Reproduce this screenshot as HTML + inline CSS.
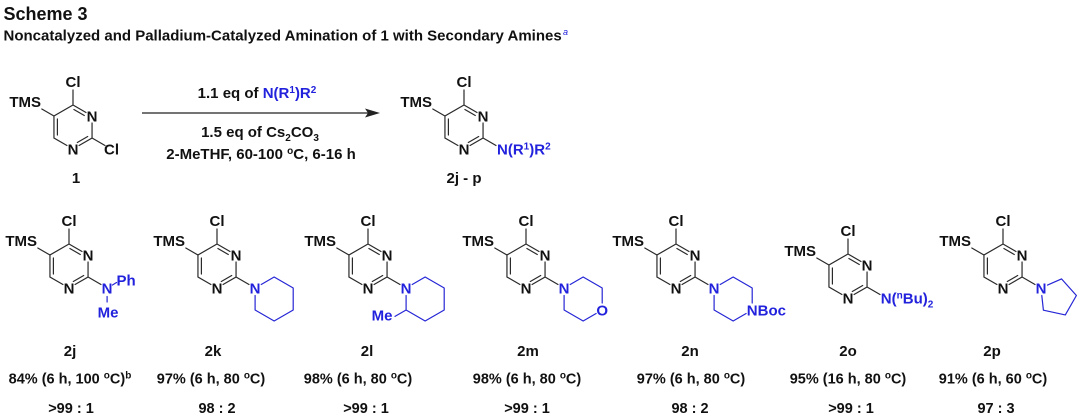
<!DOCTYPE html>
<html>
<head>
<meta charset="utf-8">
<style>
html,body{margin:0;padding:0;background:#fff;}
svg{display:block;}
text{font-family:"Liberation Sans",Arial,sans-serif;font-weight:bold;fill:#111;}
.a{font-size:15px;}
.b{fill:#2222dd;}
.bond{fill:none;stroke:#2a2a2a;stroke-width:1.2;stroke-linecap:round;}
.bb{fill:none;stroke:#2626d6;stroke-width:1.2;stroke-linecap:round;stroke-linejoin:round;}
.lab{font-size:15px;}
.pc{font-size:14.5px;}
</style>
</head>
<body>
<svg width="1080" height="420" viewBox="0 0 1080 420" xmlns="http://www.w3.org/2000/svg">
<rect width="1080" height="420" fill="#fff"/>

<!-- Title -->
<text x="3.5" y="20" style="font-size:18px">Scheme 3</text>
<text x="3.5" y="40.5" style="font-size:15px">Noncatalyzed and Palladium-Catalyzed Amination of 1 with Secondary Amines</text>
<text x="563" y="35" class="b" style="font-size:9px;font-style:italic;font-weight:normal">a</text>

<!-- Compound 1 -->
<g transform="translate(73,127)">
  <path class="bond" d="M0,-22 L-19.05,-11 L-19.05,11 L-6.06,18.5 M6.06,18.5 L19.05,11 L19.05,-4 M13,-14.5 L0,-22 M-15.6,-8 L-15.6,8 M4.3,15.5 L14.7,9.5 M11.3,-11.5 L0.9,-17.5 M0,-22 L0,-37 M-19.05,-11 L-31.2,-18 M19.05,11 L32,18.5"/>
  <text class="a" x="0" y="-40" text-anchor="middle">Cl</text>
  <text class="a" x="-32" y="-20" text-anchor="end">TMS</text>
  <text class="a" x="19.05" y="-5.5" text-anchor="middle">N</text>
  <text class="a" x="0" y="27.5" text-anchor="middle">N</text>
  <text class="a" x="38.5" y="27.5" text-anchor="middle">Cl</text>
</g>
<text class="lab" x="76" y="183" text-anchor="middle">1</text>

<!-- Arrow and conditions -->
<path d="M142,113 L368,113" stroke="#222" stroke-width="1.2" fill="none"/>
<polygon points="365,108.5 380,113 365,117.5 368,113" fill="#222"/>
<text x="257" y="98" text-anchor="middle" style="font-size:15px">1.1 eq of <tspan class="b">N(R</tspan><tspan class="b" dy="-5" style="font-size:10px">1</tspan><tspan class="b" dy="5">)R</tspan><tspan class="b" dy="-5" style="font-size:10px">2</tspan></text>
<text x="260" y="137" text-anchor="middle" style="font-size:15px">1.5 eq of Cs<tspan dy="4" style="font-size:10px">2</tspan><tspan dy="-4">CO</tspan><tspan dy="4" style="font-size:10px">3</tspan></text>
<text x="261" y="159" text-anchor="middle" style="font-size:15px">2-MeTHF, 60-100 <tspan dy="-5" style="font-size:10px">o</tspan><tspan dy="5">C, 6-16 h</tspan></text>

<!-- Product generic -->
<g transform="translate(464,127)">
  <path class="bond" d="M0,-22 L-19.05,-11 L-19.05,11 L-6.06,18.5 M6.06,18.5 L19.05,11 L19.05,-4 M13,-14.5 L0,-22 M-15.6,-8 L-15.6,8 M4.3,15.5 L14.7,9.5 M11.3,-11.5 L0.9,-17.5 M0,-22 L0,-37 M-19.05,-11 L-31.2,-18 M19.05,11 L32,18.5"/>
  <text class="a" x="0" y="-40" text-anchor="middle">Cl</text>
  <text class="a" x="-32" y="-20" text-anchor="end">TMS</text>
  <text class="a" x="19.05" y="-5.5" text-anchor="middle">N</text>
  <text class="a" x="0" y="27.5" text-anchor="middle">N</text>
  <text class="a b" x="33" y="27.5">N(R<tspan dy="-5" style="font-size:10px">1</tspan><tspan dy="5">)R</tspan><tspan dy="-5" style="font-size:10px">2</tspan></text>
</g>
<text class="lab" x="464" y="183" text-anchor="middle">2j - p</text>

<!-- 2j -->
<g transform="translate(69,266)">
  <path class="bond" d="M0,-22 L-19.05,-11 L-19.05,11 L-6.06,18.5 M6.06,18.5 L19.05,11 L19.05,-4 M13,-14.5 L0,-22 M-15.6,-8 L-15.6,8 M4.3,15.5 L14.7,9.5 M11.3,-11.5 L0.9,-17.5 M0,-22 L0,-37 M-19.05,-11 L-31.2,-18 M19.05,11 L32,18.5"/>
  <text class="a" x="0" y="-40" text-anchor="middle">Cl</text>
  <text class="a" x="-32" y="-20" text-anchor="end">TMS</text>
  <text class="a" x="19.05" y="-5.5" text-anchor="middle">N</text>
  <text class="a" x="0" y="27.5" text-anchor="middle">N</text>
  <path class="bb" d="M43.5,19 L47.5,16.5 M38.1,30.5 L38.1,36"/>
  <text class="a b" x="38.1" y="27.5" text-anchor="middle">N</text>
  <text class="a b" x="47.5" y="19.5">Ph</text>
  <text class="a b" x="39" y="51.5" text-anchor="middle">Me</text>
</g>

<!-- 2k -->
<g transform="translate(217,266)">
  <path class="bond" d="M0,-22 L-19.05,-11 L-19.05,11 L-6.06,18.5 M6.06,18.5 L19.05,11 L19.05,-4 M13,-14.5 L0,-22 M-15.6,-8 L-15.6,8 M4.3,15.5 L14.7,9.5 M11.3,-11.5 L0.9,-17.5 M0,-22 L0,-37 M-19.05,-11 L-31.2,-18 M19.05,11 L32,18.5"/>
  <text class="a" x="0" y="-40" text-anchor="middle">Cl</text>
  <text class="a" x="-32" y="-20" text-anchor="end">TMS</text>
  <text class="a" x="19.05" y="-5.5" text-anchor="middle">N</text>
  <text class="a" x="0" y="27.5" text-anchor="middle">N</text>
  <path class="bb" d="M44.2,18.5 L57.15,11 L76.2,22 L76.2,44 L57.15,55 L38.1,44 L38.1,29.5"/>
  <text class="a b" x="38.1" y="27.5" text-anchor="middle">N</text>
</g>

<!-- 2l -->
<g transform="translate(368,266)">
  <path class="bond" d="M0,-22 L-19.05,-11 L-19.05,11 L-6.06,18.5 M6.06,18.5 L19.05,11 L19.05,-4 M13,-14.5 L0,-22 M-15.6,-8 L-15.6,8 M4.3,15.5 L14.7,9.5 M11.3,-11.5 L0.9,-17.5 M0,-22 L0,-37 M-19.05,-11 L-31.2,-18 M19.05,11 L32,18.5"/>
  <text class="a" x="0" y="-40" text-anchor="middle">Cl</text>
  <text class="a" x="-32" y="-20" text-anchor="end">TMS</text>
  <text class="a" x="19.05" y="-5.5" text-anchor="middle">N</text>
  <text class="a" x="0" y="27.5" text-anchor="middle">N</text>
  <path class="bb" d="M44.2,18.5 L57.15,11 L76.2,22 L76.2,44 L57.15,55 L38.1,44 L38.1,29.5 M38.1,44 L27,50.4"/>
  <text class="a b" x="38.1" y="27.5" text-anchor="middle">N</text>
  <text class="a b" x="14" y="54.5" text-anchor="middle">Me</text>
</g>

<!-- 2m -->
<g transform="translate(526,266)">
  <path class="bond" d="M0,-22 L-19.05,-11 L-19.05,11 L-6.06,18.5 M6.06,18.5 L19.05,11 L19.05,-4 M13,-14.5 L0,-22 M-15.6,-8 L-15.6,8 M4.3,15.5 L14.7,9.5 M11.3,-11.5 L0.9,-17.5 M0,-22 L0,-37 M-19.05,-11 L-31.2,-18 M19.05,11 L32,18.5"/>
  <text class="a" x="0" y="-40" text-anchor="middle">Cl</text>
  <text class="a" x="-32" y="-20" text-anchor="end">TMS</text>
  <text class="a" x="19.05" y="-5.5" text-anchor="middle">N</text>
  <text class="a" x="0" y="27.5" text-anchor="middle">N</text>
  <path class="bb" d="M44.2,18.5 L57.15,11 L76.2,22 L76.2,37 M70.1,47.5 L57.15,55 L38.1,44 L38.1,29.5"/>
  <text class="a b" x="38.1" y="27.5" text-anchor="middle">N</text>
  <text class="a b" x="76.2" y="49.5" text-anchor="middle">O</text>
</g>

<!-- 2n -->
<g transform="translate(676,266)">
  <path class="bond" d="M0,-22 L-19.05,-11 L-19.05,11 L-6.06,18.5 M6.06,18.5 L19.05,11 L19.05,-4 M13,-14.5 L0,-22 M-15.6,-8 L-15.6,8 M4.3,15.5 L14.7,9.5 M11.3,-11.5 L0.9,-17.5 M0,-22 L0,-37 M-19.05,-11 L-31.2,-18 M19.05,11 L32,18.5"/>
  <text class="a" x="0" y="-40" text-anchor="middle">Cl</text>
  <text class="a" x="-32" y="-20" text-anchor="end">TMS</text>
  <text class="a" x="19.05" y="-5.5" text-anchor="middle">N</text>
  <text class="a" x="0" y="27.5" text-anchor="middle">N</text>
  <path class="bb" d="M44.2,18.5 L57.15,11 L76.2,22 L76.2,37 M70.1,47.5 L57.15,55 L38.1,44 L38.1,29.5"/>
  <text class="a b" x="38.1" y="27.5" text-anchor="middle">N</text>
  <text class="a b" x="70.8" y="49.5">NBoc</text>
</g>

<!-- 2o -->
<g transform="translate(848,276)">
  <path class="bond" d="M0,-22 L-19.05,-11 L-19.05,11 L-6.06,18.5 M6.06,18.5 L19.05,11 L19.05,-4 M13,-14.5 L0,-22 M-15.6,-8 L-15.6,8 M4.3,15.5 L14.7,9.5 M11.3,-11.5 L0.9,-17.5 M0,-22 L0,-37 M-19.05,-11 L-31.2,-18 M19.05,11 L32,18.5"/>
  <text class="a" x="0" y="-40" text-anchor="middle">Cl</text>
  <text class="a" x="-32" y="-20" text-anchor="end">TMS</text>
  <text class="a" x="19.05" y="-5.5" text-anchor="middle">N</text>
  <text class="a" x="0" y="27.5" text-anchor="middle">N</text>
  <text class="a b" x="32.8" y="27.5">N(<tspan dy="-5" style="font-size:10px">n</tspan><tspan dy="5">Bu)</tspan><tspan dy="4" style="font-size:10px">2</tspan></text>
</g>

<!-- 2p -->
<g transform="translate(1003,266)">
  <path class="bond" d="M0,-22 L-19.05,-11 L-19.05,11 L-6.06,18.5 M6.06,18.5 L19.05,11 L19.05,-4 M13,-14.5 L0,-22 M-15.6,-8 L-15.6,8 M4.3,15.5 L14.7,9.5 M11.3,-11.5 L0.9,-17.5 M0,-22 L0,-37 M-19.05,-11 L-31.2,-18 M19.05,11 L32,18.5"/>
  <text class="a" x="0" y="-40" text-anchor="middle">Cl</text>
  <text class="a" x="-32" y="-20" text-anchor="end">TMS</text>
  <text class="a" x="19.05" y="-5.5" text-anchor="middle">N</text>
  <text class="a" x="0" y="27.5" text-anchor="middle">N</text>
  <path class="bb" d="M44.5,19.1 L58.5,12.9 L73.4,29.5 L62.3,48.9 L40.4,44.2 L38.8,29.5"/>
  <text class="a b" x="38.1" y="27.5" text-anchor="middle">N</text>
</g>

<!-- Labels row -->
<text class="lab" x="70" y="356" text-anchor="middle">2j</text>
<text class="lab" x="213" y="356" text-anchor="middle">2k</text>
<text class="lab" x="367" y="356" text-anchor="middle">2l</text>
<text class="lab" x="528" y="356" text-anchor="middle">2m</text>
<text class="lab" x="690" y="356" text-anchor="middle">2n</text>
<text class="lab" x="848" y="356" text-anchor="middle">2o</text>
<text class="lab" x="992" y="356" text-anchor="middle">2p</text>

<!-- Yields -->
<text class="pc" x="70" y="383.5" text-anchor="middle">84% (6 h, 100 <tspan dy="-5" style="font-size:10px">o</tspan><tspan dy="5">C)</tspan><tspan dy="-5" style="font-size:10px">b</tspan></text>
<text class="pc" x="211" y="383.5" text-anchor="middle">97% (6 h, 80 <tspan dy="-5" style="font-size:10px">o</tspan><tspan dy="5">C)</tspan></text>
<text class="pc" x="358" y="383.5" text-anchor="middle">98% (6 h, 80 <tspan dy="-5" style="font-size:10px">o</tspan><tspan dy="5">C)</tspan></text>
<text class="pc" x="527" y="383.5" text-anchor="middle">98% (6 h, 80 <tspan dy="-5" style="font-size:10px">o</tspan><tspan dy="5">C)</tspan></text>
<text class="pc" x="691" y="383.5" text-anchor="middle">97% (6 h, 80 <tspan dy="-5" style="font-size:10px">o</tspan><tspan dy="5">C)</tspan></text>
<text class="pc" x="848" y="383.5" text-anchor="middle">95% (16 h, 80 <tspan dy="-5" style="font-size:10px">o</tspan><tspan dy="5">C)</tspan></text>
<text class="pc" x="993" y="383.5" text-anchor="middle">91% (6 h, 60 <tspan dy="-5" style="font-size:10px">o</tspan><tspan dy="5">C)</tspan></text>

<!-- Ratios -->
<text class="pc" x="71" y="413" text-anchor="middle">&gt;99 : 1</text>
<text class="pc" x="217" y="413" text-anchor="middle">98 : 2</text>
<text class="pc" x="366" y="413" text-anchor="middle">&gt;99 : 1</text>
<text class="pc" x="527" y="413" text-anchor="middle">&gt;99 : 1</text>
<text class="pc" x="690" y="413" text-anchor="middle">98 : 2</text>
<text class="pc" x="851" y="413" text-anchor="middle">&gt;99 : 1</text>
<text class="pc" x="996" y="413" text-anchor="middle">97 : 3</text>
</svg>
</body>
</html>
